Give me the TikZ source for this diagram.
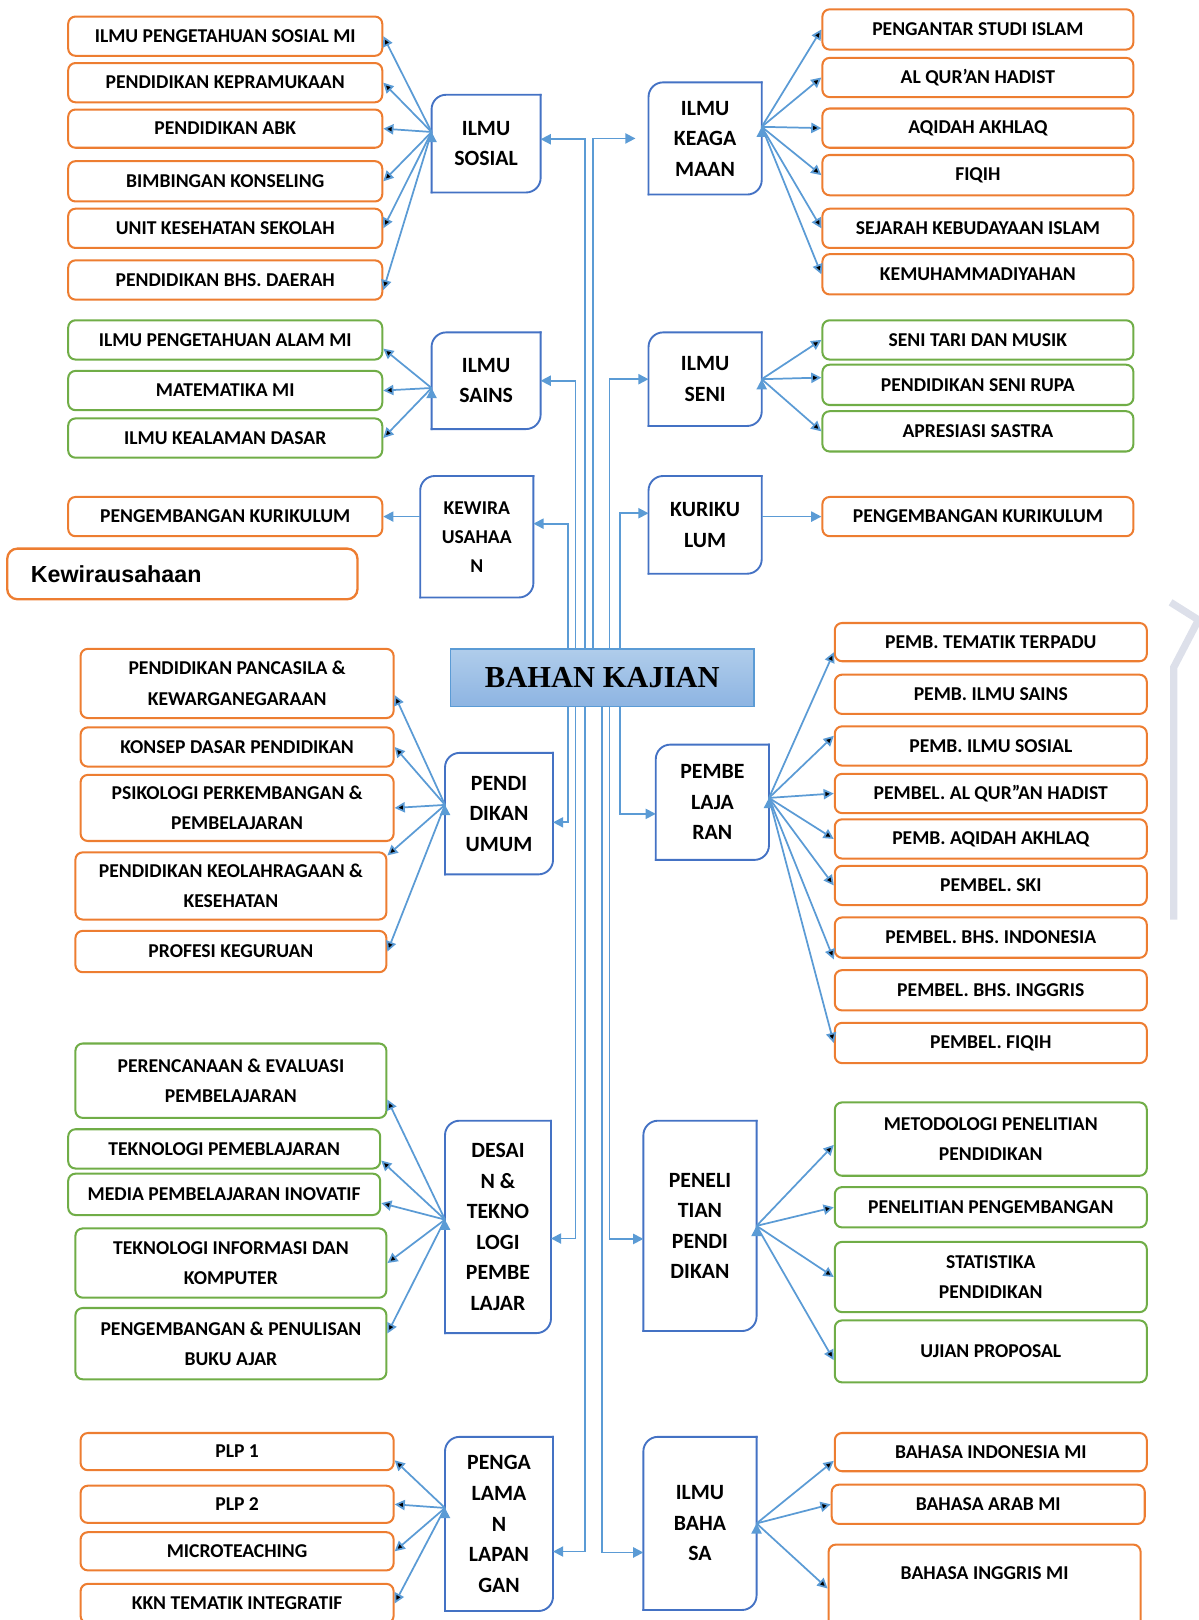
\documentclass[tikz,border=0pt]{standalone}
\usepackage{fontspec}
\setmainfont{Carlito}
\newfontfamily\kwfont{Liberation Sans}
\newfontfamily\bkfont{Liberation Serif}
\usetikzlibrary{arrows.meta}
\definecolor{boxorange}{HTML}{ED7D31}
\definecolor{boxgreen}{HTML}{70AD47}
\definecolor{hubblue}{HTML}{4472C4}
\definecolor{lineblue}{HTML}{5B9BD5}
\definecolor{bktop}{HTML}{B0CDEB}
\definecolor{bkbottom}{HTML}{8DB4E2}
\definecolor{faint}{HTML}{DDE0EA}
\newlength{\px}
\setlength{\px}{0.025cm}

\begin{document}
\begin{tikzpicture}[x=0.025cm,y=-0.025cm,
    obox/.style={draw=boxorange, line width=1.4pt, rounded corners=5pt, align=center, inner sep=1pt,
        font=\bfseries\fontsize{13.5}{21}\selectfont},
    gbox/.style={obox, draw=boxgreen},
    wh/.style 2 args={minimum width=#1*\px, minimum height=#2*\px},
    hub/.style={align=center, inner sep=1pt, font=\bfseries\fontsize{15}{21}\selectfont},
    hubline/.style={draw=hubblue, line width=1.3pt, line cap=rect},
    fan/.style={draw=lineblue, line width=1.2pt, -{Triangle[length=7pt,width=7pt]}}]
    \useasboundingbox (0,0) rectangle (1160,1568);

    % faint mark on the right edge
    \draw[faint, line width=5pt] (1133,583) -- (1160,600) -- (1136,646) -- (1136,890);

    % ilmu sosial
    \node[hub, wh={105}{94}] (sosial) at (470.5,139) {ILMU\\SOSIAL};
    \node[obox, wh={304}{38}] (ips) at (218,35) {ILMU PENGETAHUAN SOSIAL MI};
    \node[obox, wh={304}{38}] (pram) at (218,80) {PENDIDIKAN KEPRAMUKAAN};
    \node[obox, wh={304}{37}] (abk) at (218,124.5) {PENDIDIKAN ABK};
    \node[obox, wh={304}{39}] (bimb) at (218,175.5) {BIMBINGAN KONSELING};
    \node[obox, wh={304}{38}] (uks) at (218,221) {UNIT KESEHATAN SEKOLAH};
    \node[obox, wh={304}{38}] (daerah) at (218,271) {PENDIDIKAN BHS. DAERAH};

    % ilmu keagamaan
    \node[hub, wh={109}{108}] (agama) at (682.5,134) {ILMU\\KEAGA\\MAAN};
    \node[obox, wh={301}{39}] (psi) at (946.5,28.5) {PENGANTAR STUDI ISLAM};
    \node[obox, wh={301}{38}] (quran) at (946.5,75) {AL QUR’AN HADIST};
    \node[obox, wh={301}{38}] (aqidah) at (946.5,124) {AQIDAH AKHLAQ};
    \node[obox, wh={301}{39}] (fiqih) at (946.5,169.5) {FIQIH};
    \node[obox, wh={301}{38}] (ski) at (946.5,221) {SEJARAH KEBUDAYAAN ISLAM};
    \node[obox, wh={301}{39}] (kemuh) at (946.5,265.5) {KEMUHAMMADIYAHAN};

    % ilmu sains
    \node[hub, wh={105}{93}] (sains) at (470.5,368.5) {ILMU\\SAINS};
    \node[gbox, wh={304}{38}] (ipa) at (218,329) {ILMU PENGETAHUAN ALAM MI};
    \node[gbox, wh={304}{38}] (mtk) at (218,378) {MATEMATIKA MI};
    \node[gbox, wh={304}{38}] (ikd) at (218,424) {ILMU KEALAMAN DASAR};

    % ilmu seni
    \node[hub, wh={109}{90}] (seni) at (682.5,367) {ILMU\\SENI};
    \node[gbox, wh={301}{38}] (tari) at (946.5,329) {SENI TARI DAN MUSIK};
    \node[gbox, wh={301}{39}] (rupa) at (946.5,372.5) {PENDIDIKAN SENI RUPA};
    \node[gbox, wh={301}{39}] (sastra) at (946.5,417.5) {APRESIASI SASTRA};

    % kewirausahaan
    \node[hub, wh={109}{117}, font=\bfseries\fontsize{13.5}{20}\selectfont] (kewira) at (461.5,519.5) {KEWIRA\\USAHAA\\N};
    \node[obox, wh={304}{38}] (pkurL) at (218,500) {PENGEMBANGAN KURIKULUM};
    \node[obox, line width=1.6pt, rounded corners=7pt, wh={339}{49}, text width=7.325cm, align=left,
        font=\kwfont\bfseries\fontsize{16}{19}\selectfont] (kwu) at (176.5,555.5) {Kewirausahaan};

    % kurikulum
    \node[hub, wh={109}{94}] (kurikulum) at (682.5,508) {KURIKU\\LUM};
    \node[obox, wh={301}{38}] (pkurR) at (946.5,500) {PENGEMBANGAN KURIKULUM};

    % bahan kajian
    \node[draw=lineblue, line width=1pt, top color=bktop, bottom color=bkbottom, wh={294}{56},
        font=\bkfont\bfseries\fontsize{21}{25}\selectfont] (bk) at (583,656) {BAHAN KAJIAN};

    % pendidikan umum
    \node[hub, wh={104}{117}] (umum) at (483,787.5) {PENDI\\DIKAN\\UMUM};
    \node[obox, wh={303}{67}] (ppkn) at (229.5,661.5) {PENDIDIKAN PANCASILA \&\\KEWARGANEGARAAN};
    \node[obox, wh={303}{38}] (kdp) at (229.5,723) {KONSEP DASAR PENDIDIKAN};
    \node[obox, wh={303}{64}] (psikologi) at (229.5,782) {PSIKOLOGI PERKEMBANGAN \&\\PEMBELAJARAN};
    \node[obox, wh={301}{65}] (olahraga) at (223.5,857.5) {PENDIDIKAN KEOLAHRAGAAN \&\\KESEHATAN};
    \node[obox, wh={301}{40}] (profesi) at (223.5,921) {PROFESI KEGURUAN};

    % pembelajaran
    \node[hub, wh={109}{111}] (belajar) at (689.5,776.5) {PEMBE\\LAJA\\RAN};
    \node[obox, wh={302}{37}] (tematik) at (959,621.5) {PEMB. TEMATIK TERPADU};
    \node[obox, wh={302}{38}] (psains) at (959,672) {PEMB. ILMU SAINS};
    \node[obox, wh={302}{38}] (psosial) at (959,722) {PEMB. ILMU SOSIAL};
    \node[obox, wh={302}{38}] (pquran) at (959,768) {PEMBEL. AL QUR"AN HADIST};
    \node[obox, wh={302}{38}] (paqidah) at (959,812) {PEMB. AQIDAH AKHLAQ};
    \node[obox, wh={302}{38}] (pski) at (959,857) {PEMBEL. SKI};
    \node[obox, wh={302}{39}] (pindo) at (959,907.5) {PEMBEL. BHS. INDONESIA};
    \node[obox, wh={302}{39}] (pinggris) at (959,958.5) {PEMBEL. BHS. INGGRIS};
    \node[obox, wh={302}{39}] (pfiqih) at (959,1009.5) {PEMBEL. FIQIH};

    % desain & teknologi pembelajar
    \node[hub, wh={102}{205}] (desain) at (482,1187.5) {DESAI\\N \&\\TEKNO\\LOGI\\PEMBE\\LAJAR};
    \node[gbox, wh={301}{72}] (rencana) at (223.5,1046) {PERENCANAAN \& EVALUASI\\PEMBELAJARAN};
    \node[gbox, wh={302}{38}] (tekpem) at (217,1112) {TEKNOLOGI PEMEBLAJARAN};
    \node[gbox, wh={302}{40}] (media) at (217,1156) {MEDIA PEMBELAJARAN INOVATIF};
    \node[gbox, wh={301}{67}] (tik) at (223.5,1222.5) {TEKNOLOGI INFORMASI DAN\\KOMPUTER};
    \node[gbox, wh={301}{69}] (buku) at (223.5,1300.5) {PENGEMBANGAN \& PENULISAN\\BUKU AJAR};

    % penelitian pendidikan
    \node[hub, wh={109}{203}] (teliti) at (677.5,1186.5) {PENELI\\TIAN\\PENDI\\DIKAN};
    \node[gbox, wh={302}{71}] (metpen) at (959,1102.5) {METODOLOGI PENELITIAN\\PENDIDIKAN};
    \node[gbox, wh={302}{39}] (pengembangan) at (959,1168.5) {PENELITIAN PENGEMBANGAN};
    \node[gbox, wh={302}{68}] (statistika) at (959,1236) {STATISTIKA\\PENDIDIKAN};
    \node[gbox, wh={302}{60}] (ujian) at (959,1308) {UJIAN PROPOSAL};

    % pengalaman lapangan
    \node[hub, wh={104}{168}] (lapangan) at (483,1475) {PENGA\\LAMA\\N\\LAPAN\\GAN};
    \node[obox, wh={303}{36}] (plp1) at (229.5,1405) {PLP 1};
    \node[obox, wh={303}{36}] (plp2) at (229.5,1456) {PLP 2};
    \node[obox, wh={303}{37}] (micro) at (229.5,1501.5) {MICROTEACHING};
    \node[obox, wh={303}{38}] (kkn) at (229.5,1552) {KKN TEMATIK INTEGRATIF};

    % ilmu bahasa
    \node[hub, wh={109}{167}] (bahasa) at (677.5,1474.5) {ILMU\\BAHA\\SA};
    \node[obox, wh={302}{37}] (bindo) at (959,1405.5) {BAHASA INDONESIA MI};
    \node[obox, wh={303}{38}] (barab) at (956.5,1456) {BAHASA ARAB MI};
    \node[obox, wh={302}{85}] (bing) at (953,1537.5) {BAHASA INGGRIS MI\\\mbox{}};

    % hub frames
    \foreach \h in {sosial,agama,sains,seni,kewira,kurikulum,umum,belajar,desain,teliti,lapangan,bahasa} {
        \draw[hubline, rounded corners=10pt] (\h.north east) -- (\h.south east) -- (\h.south west);
        \draw[hubline, rounded corners=10pt] (\h.south west) -- (\h.north west) -- (\h.north east);
    }

    % trunk from bahan kajian
    \draw[fan] ([xshift=-12pt]bk.north) |- ([yshift=3pt]sosial.east);
    \draw[fan, shorten >=9pt] ([xshift=-6.4pt]bk.north) |- (agama.west);
    \draw[fan] ([xshift=-18.5pt]bk.north) |- (sains.east);
    \draw[fan] ([xshift=5pt]bk.north) |- (seni.west);
    \draw[fan] ([xshift=-23.5pt]bk.north) |- ([yshift=9pt]kewira.east);
    \draw[fan] ([xshift=12pt]bk.north) |- ([yshift=8pt]kurikulum.west);
    \draw[fan] ([xshift=-23.5pt]bk.south) |- ([yshift=-6pt]umum.east);
    \draw[fan] ([xshift=12pt]bk.south) |- ([yshift=-8pt]belajar.west);
    \draw[fan] ([xshift=-18.5pt]bk.south) |- ([yshift=-8pt]desain.east);
    \draw[fan] ([xshift=5pt]bk.south) |- ([yshift=-9pt]teliti.west);
    \draw[fan] ([xshift=-12pt]bk.south) |- ([yshift=-19pt]lapangan.east);
    \draw[fan] (bk.south) |- ([yshift=-20pt]bahasa.west);

    % fans to the courses
    \coordinate (sosialL) at ([yshift=8pt]sosial.west);
    \draw[fan] (sosialL) edge (ips.east) edge (pram.east) edge (abk.east) edge (bimb.east)
        edge (uks.east) edge ([yshift=-7pt]daerah.east);
    \coordinate (agamaR) at ([yshift=8pt]agama.east);
    \draw[fan] (agamaR) edge (psi.west) edge (quran.west) edge (aqidah.west) edge (fiqih.west)
        edge (ski.west) edge (kemuh.west);
    \coordinate (sainsL) at ([yshift=-5pt]sains.west);
    \draw[fan] (sainsL) edge ([yshift=-6pt]ipa.east) edge (mtk.east) edge (ikd.east);
    \draw[fan] (seni.east) edge (tari.west) edge ([yshift=5pt]rupa.west) edge (sastra.west);
    \draw[fan] (pkurL.east -| kewira.west) -- (pkurL.east);
    \draw[fan] (pkurR.west -| kurikulum.east) -- (pkurR.west);
    \coordinate (umumL) at ([yshift=6pt]umum.west);
    \draw[fan] (umumL) edge ([yshift=-8pt]ppkn.east) edge (kdp.east) edge (psikologi.east)
        edge ([yshift=21pt]olahraga.east) edge (profesi.east);
    \coordinate (belajarR) at ([yshift=3pt]belajar.east);
    \draw[fan] (belajarR) edge ([yshift=-7pt]tematik.west) edge ([yshift=7pt]psosial.west) edge (pquran.west)
        edge (paqidah.west) edge (pski.west) edge ([yshift=-15pt]pindo.west) edge (pfiqih.west);
    \coordinate (desainL) at ([yshift=5pt]desain.west);
    \draw[fan] (desainL) edge ([yshift=-13pt]rencana.east) edge ([yshift=-8pt]tekpem.east)
        edge ([yshift=-6pt]media.east) edge (tik.east) edge ([yshift=7pt]buku.east);
    \draw[fan] (teliti.east) edge ([yshift=-4pt]metpen.west) edge (pengembangan.west)
        edge (statistika.west) edge ([yshift=-6pt]ujian.west);
    \coordinate (lapanganL) at ([yshift=11pt]lapangan.west);
    \draw[fan] (lapanganL) edge ([yshift=-6pt]plp1.east) edge (plp2.east) edge (micro.east) edge (kkn.east);
    \draw[fan] (bahasa.east) edge ([yshift=-6pt]bindo.west) edge (barab.west) edge (bing.west);
\end{tikzpicture}
\end{document}
